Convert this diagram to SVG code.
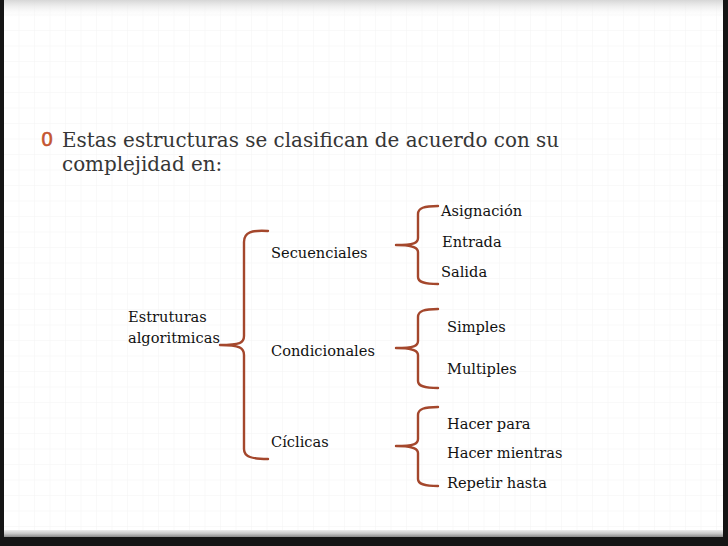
<svg xmlns="http://www.w3.org/2000/svg" width="728" height="546" viewBox="0 0 728 546">
  <defs>
    <style>
      .title { font-family: "DejaVu Serif", "Liberation Serif", serif; font-size: 19.9px; fill: #363636; }
      .lbl { font-family: "DejaVu Serif", "Liberation Serif", serif; font-size: 14.6px; fill: #111111; }
      .brace { fill: none; stroke: #a4472c; stroke-width: 2.4; stroke-linecap: round; stroke-linejoin: round; }
      .bullet { font-family: "Liberation Sans", "DejaVu Sans", sans-serif; font-size: 20px; fill: #c4552f; stroke: #c4552f; stroke-width: 0.6; }
    </style>
    <pattern id="grid" x="4" y="0" width="15.5" height="15.5" patternUnits="userSpaceOnUse">
      <path d="M15.5,0 L15.5,15.5 M0,15.5 L15.5,15.5" fill="none" stroke="#f3f3f3" stroke-width="1"/>
    </pattern>
    <linearGradient id="topShade" x1="0" y1="0" x2="0" y2="1">
      <stop offset="0" stop-color="#d6d6d6"/>
      <stop offset="1" stop-color="#ffffff" stop-opacity="0"/>
    </linearGradient>
    <linearGradient id="botShade" x1="0" y1="0" x2="0" y2="1">
      <stop offset="0" stop-color="#ececec"/>
      <stop offset="0.5" stop-color="#c8c8c8"/>
      <stop offset="1" stop-color="#8a8a8a"/>
    </linearGradient>
  </defs>

  <!-- dark surround -->
  <rect x="0" y="0" width="728" height="546" fill="#151515"/>
  <!-- paper -->
  <rect x="4" y="0" width="719" height="537" fill="#ffffff"/>
  <rect x="4" y="0" width="719" height="531" fill="url(#grid)"/>
  <rect x="4" y="0" width="719" height="18" fill="url(#topShade)"/>
  <rect x="4" y="530" width="719" height="7" fill="url(#botShade)"/>

  <!-- heading -->
  <g id="heading">
    <text class="bullet" x="41.5" y="145.5">0</text>
    <text class="title" x="62" y="147">Estas estructuras se clasifican de acuerdo con su</text>
    <text class="title" x="62" y="171">complejidad en:</text>
  </g>

  <!-- connectors (braces) -->
  <g id="connectors">
    <path class="brace" d="M268,231 C252,230 244,232 244,242 L244,336 C244,343 240,345 220,345 C240,345 244,348 244,355 L244,449 C244,457 252,459 268,459"/>
    <path class="brace" d="M438,206 C424,206 418,208 418,214 L418,238 C418,243 414,245 396,245 C414,245 418,248 418,252 L418,277 C418,282 424,284 438,284"/>
    <path class="brace" d="M438,309 C424,309 418,311 418,317 L418,341 C418,346 414,348 396,348 C414,348 418,351 418,355 L418,381 C418,386 424,388 438,388"/>
    <path class="brace" d="M438,407 C424,407 418,409 418,415 L418,439 C418,444 414,446 396,446 C414,446 418,449 418,453 L418,479 C418,484 424,486 438,486"/>
  </g>

  <!-- nodes -->
  <g id="node-estructuras">
    <text class="lbl" x="128" y="322">Estruturas</text>
    <text class="lbl" x="128" y="343">algoritmicas</text>
  </g>
  <g id="node-secuenciales">
    <text class="lbl" x="271" y="258">Secuenciales</text>
  </g>
  <g id="node-condicionales">
    <text class="lbl" x="271" y="356">Condicionales</text>
  </g>
  <g id="node-ciclicas">
    <text class="lbl" x="271" y="447">Cíclicas</text>
  </g>
  <g id="node-asignacion">
    <text class="lbl" x="441" y="216">Asignación</text>
  </g>
  <g id="node-entrada">
    <text class="lbl" x="442" y="247">Entrada</text>
  </g>
  <g id="node-salida">
    <text class="lbl" x="441" y="277">Salida</text>
  </g>
  <g id="node-simples">
    <text class="lbl" x="447" y="332">Simples</text>
  </g>
  <g id="node-multiples">
    <text class="lbl" x="447" y="374">Multiples</text>
  </g>
  <g id="node-hacer-para">
    <text class="lbl" x="447" y="429">Hacer para</text>
  </g>
  <g id="node-hacer-mientras">
    <text class="lbl" x="447" y="458">Hacer mientras</text>
  </g>
  <g id="node-repetir-hasta">
    <text class="lbl" x="447" y="488">Repetir hasta</text>
  </g>
</svg>
